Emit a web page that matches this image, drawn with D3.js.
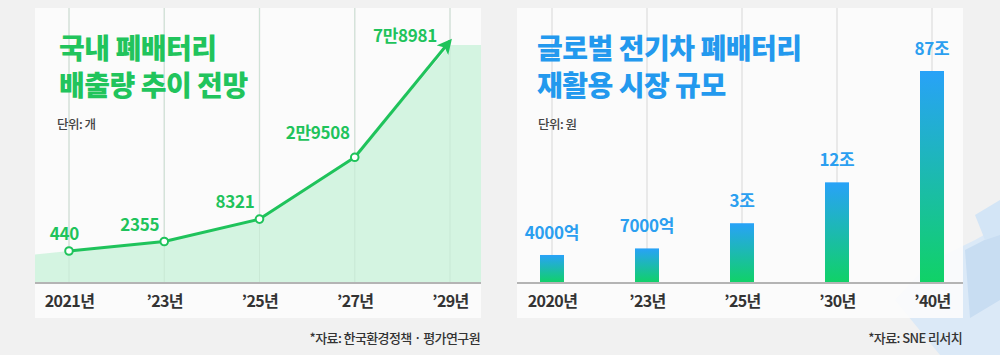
<!DOCTYPE html>
<html><head><meta charset="utf-8">
<script src="https://cdn.jsdelivr.net/npm/d3@7"></script>
<style>
html,body{margin:0;padding:0;background:#f1f1f1;}
svg{display:block;font-family:"Noto Sans CJK KR","Noto Sans",sans-serif;}
</style></head>
<body>
<svg id="c" width="1000" height="355"></svg>
<script>
// ---- data ----
const leftCategories = ["2021년", "’23년", "’25년", "’27년", "’29년"];
const leftValues = [440, 2355, 8321, 29508, 78981];
const leftLabels = ["440", "2355", "8321", "2만9508", "7만8981"];
const leftTitle = ["국내 폐배터리", "배출량 추이 전망"];
const leftUnit = "단위: 개";
const leftSource = "*자료: 한국환경정책 · 평가연구원";

const rightCategories = ["2020년", "’23년", "’25년", "’30년", "’40년"];
const rightValues = [0.4, 0.7, 3, 12, 87]; // 조원
const rightLabels = ["4000억", "7000억", "3조", "12조", "87조"];
const rightTitle = ["글로벌 전기차 폐배터리", "재활용 시장 규모"];
const rightUnit = "단위: 원";
const rightSource = "*자료: SNE 리서치";

const svg = d3.select("#c");
const defs = svg.append("defs");

// background decoration (faint illustration, bottom right)
const deco = svg.append("g");
deco.append("path").attr("d","M895,300 L930,262 L975,240 L1000,226 L1000,355 L940,355 Z").attr("fill","#dbe9f7");
deco.append("path").attr("d","M965,250 L1000,232 L1000,300 L970,318 Z").attr("fill","#c8ddf2");
deco.append("path").attr("d","M975,215 L1000,200 L1000,235 L985,240 Z").attr("fill","#d3e5f6");

const panelTop = 8, panelBottom = 318, baseY = 283;

function panel(x0, x1) {
  svg.append("rect").attr("x", x0).attr("y", panelTop).attr("width", x1 - x0)
    .attr("height", panelBottom - panelTop).attr("fill", "#fcfcfc").attr("opacity", 0.9);
}

// ================= LEFT: line chart =================
const L = {x0: 35, x1: 481};
panel(L.x0, L.x1);
const xL = d3.scalePoint().domain(leftCategories).range([69, 450]);
const yL = d3.scalePow().exponent(0.8).domain([440, 78981]).range([251, 41]);
const green = "#1fc35b";

const gL = svg.append("g");
gL.selectAll("line.grid").data(leftCategories).join("line")
  .attr("x1", d => xL(d)).attr("x2", d => xL(d)).attr("y1", panelTop).attr("y2", baseY)
  .attr("stroke", "#e3e3e3").attr("stroke-width", 1.5);

const pts = leftCategories.map((c, i) => [xL(c), yL(leftValues[i])]);
const slope = (pts[1][1] - pts[0][1]) / (pts[1][0] - pts[0][0]);
const areaPts = [[L.x0, pts[0][1] - slope * (pts[0][0] - L.x0)], ...pts.slice(0, -1),
  [pts[4][0], pts[4][1] + 4], [L.x1, pts[4][1] + 4]];
gL.append("path")
  .datum(areaPts)
  .attr("d", d3.area().x(d => d[0]).y0(baseY).y1(d => d[1]))
  .attr("fill", "#d0f3de").attr("opacity", 0.92);
gL.selectAll("line.grid2").data(leftCategories).join("line")
  .attr("x1", d => xL(d)).attr("x2", d => xL(d)).attr("y1", panelTop).attr("y2", baseY)
  .attr("stroke", "#c4e4d0").attr("stroke-width", 1).attr("opacity", 0.6);

defs.append("marker").attr("id", "arr").attr("viewBox", "0 0 10 10")
  .attr("refX", 8).attr("refY", 5).attr("markerWidth", 5).attr("markerHeight", 5)
  .attr("markerUnits", "strokeWidth").attr("orient", "auto")
  .append("path").attr("d", "M0,0 L10,5 L0,10 L2.5,5 Z").attr("fill", green);

gL.append("path").datum(pts.slice(0, 4))
  .attr("d", d3.line()).attr("fill", "none").attr("stroke", green).attr("stroke-width", 3)
  .attr("stroke-linejoin", "round");
gL.append("path").datum(pts.slice(3))
  .attr("d", d3.line()).attr("fill", "none").attr("stroke", green).attr("stroke-width", 3)
  .attr("marker-end", "url(#arr)");
gL.selectAll("circle").data(pts.slice(0, 4)).join("circle")
  .attr("cx", d => d[0]).attr("cy", d => d[1]).attr("r", 3.8)
  .attr("fill", "#fff").attr("stroke", green).attr("stroke-width", 2);

gL.selectAll("text.val").data(leftLabels).join("text")
  .attr("x", (d, i) => pts[i][0] + (i === 0 ? 10 : (i === 4 ? -13 : -5)))
  .attr("y", (d, i) => pts[i][1] - (i === 4 ? -1 : (i === 3 ? 18 : 11)))
  .attr("text-anchor", "end").attr("font-size", 17).attr("font-weight", 700)
  .attr("letter-spacing", -0.3).attr("fill", green).text(d => d);

gL.append("line").attr("x1", L.x0).attr("x2", L.x1).attr("y1", baseY).attr("y2", baseY)
  .attr("stroke", "#b4b4b4").attr("stroke-width", 2);
const axL = gL.append("g").attr("transform", `translate(0,${baseY})`)
  .call(d3.axisBottom(xL).tickSize(0).tickPadding(13));
axL.select(".domain").remove();
axL.selectAll("text").attr("font-size", 16).attr("font-weight", 700).attr("fill", "#333")
  .attr("letter-spacing", -0.6).attr("font-family", "'Noto Sans CJK KR',sans-serif");

gL.selectAll("text.title").data(leftTitle).join("text")
  .attr("x", 59).attr("y", (d, i) => 59 + i * 37).attr("font-size", 28).attr("font-weight", 900)
  .attr("fill", "#21c45c").attr("letter-spacing", -0.5).text(d => d);
gL.append("text").attr("x", 57).attr("y", 129).attr("font-size", 12.5).attr("font-weight", 500)
  .attr("fill", "#444").attr("letter-spacing", -0.5).text(leftUnit);
gL.append("text").attr("x", 480).attr("y", 343).attr("text-anchor", "end").attr("font-size", 13)
  .attr("font-weight", 500).attr("fill", "#333").attr("letter-spacing", -0.6).text(leftSource);

// ================= RIGHT: bar chart =================
const R = {x0: 517, x1: 963};
panel(R.x0, R.x1);
const xR = d3.scalePoint().domain(rightCategories).range([552, 932]);
const yR = d3.scalePow().exponent(0.376).domain([0, 87]).range([baseY, 71]);
const blue = "#2b9ff0";

const grad = defs.append("linearGradient").attr("id", "barGrad")
  .attr("x1", 0).attr("y1", 0).attr("x2", 0).attr("y2", 1);
grad.append("stop").attr("offset", "0%").attr("stop-color", "#28a2f8");
grad.append("stop").attr("offset", "100%").attr("stop-color", "#10d266");

const gR = svg.append("g");
gR.selectAll("line.grid").data(rightCategories).join("line")
  .attr("x1", d => xR(d)).attr("x2", d => xR(d)).attr("y1", panelTop).attr("y2", baseY)
  .attr("stroke", "#e3e3e3").attr("stroke-width", 1.5);
const bw = 24;
gR.selectAll("rect.bar").data(rightValues).join("rect")
  .attr("x", (d, i) => xR(rightCategories[i]) - bw / 2).attr("width", bw)
  .attr("y", d => yR(d)).attr("height", d => baseY - yR(d))
  .attr("fill", "url(#barGrad)");
gR.selectAll("text.val").data(rightLabels).join("text")
  .attr("x", (d, i) => xR(rightCategories[i]))
  .attr("y", (d, i) => yR(rightValues[i]) - 16)
  .attr("text-anchor", "middle").attr("font-size", 17).attr("font-weight", 700)
  .attr("letter-spacing", -0.3).attr("fill", blue).text(d => d);

gR.append("line").attr("x1", R.x0).attr("x2", R.x1).attr("y1", baseY).attr("y2", baseY)
  .attr("stroke", "#b4b4b4").attr("stroke-width", 2);
const axR = gR.append("g").attr("transform", `translate(0,${baseY})`)
  .call(d3.axisBottom(xR).tickSize(0).tickPadding(13));
axR.select(".domain").remove();
axR.selectAll("text").attr("font-size", 16).attr("font-weight", 700).attr("fill", "#333")
  .attr("letter-spacing", -0.6).attr("font-family", "'Noto Sans CJK KR',sans-serif");

gR.selectAll("text.title").data(rightTitle).join("text")
  .attr("x", 537).attr("y", (d, i) => 59 + i * 37).attr("font-size", 28).attr("font-weight", 900)
  .attr("fill", "#2399ee").attr("letter-spacing", -0.5).text(d => d);
gR.append("text").attr("x", 538).attr("y", 129).attr("font-size", 12.5).attr("font-weight", 500)
  .attr("fill", "#444").attr("letter-spacing", -0.5).text(rightUnit);
gR.append("text").attr("x", 962).attr("y", 343).attr("text-anchor", "end").attr("font-size", 13)
  .attr("font-weight", 500).attr("fill", "#333").attr("letter-spacing", -0.6).text(rightSource);
</script>
</body></html>
